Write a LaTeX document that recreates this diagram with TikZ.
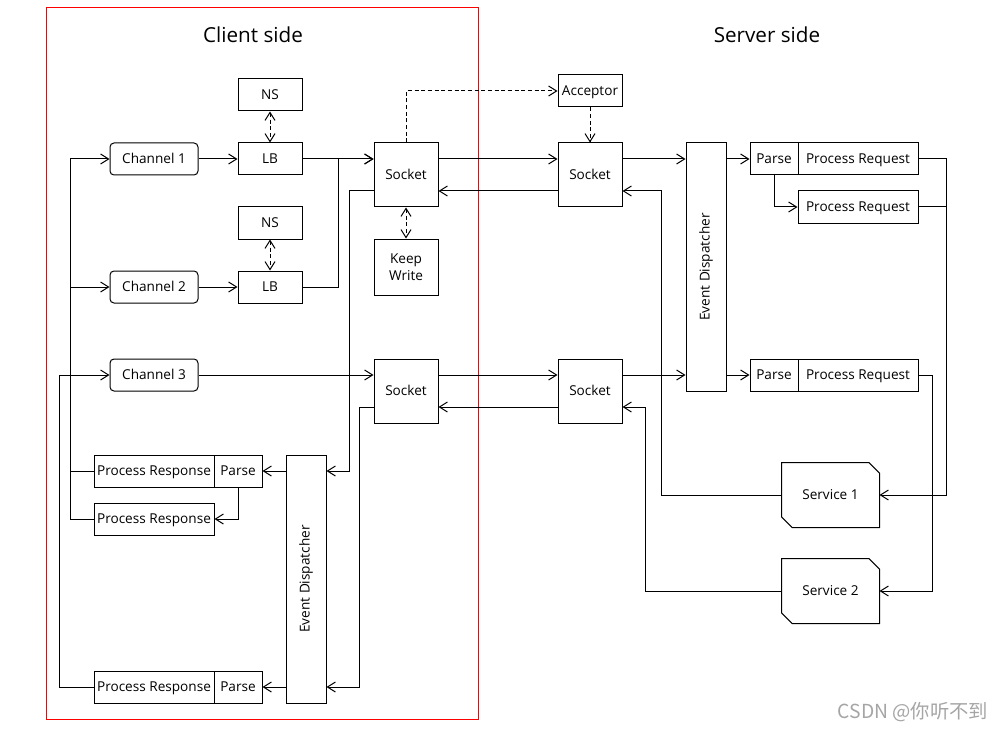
\documentclass[tikz,border=0pt]{standalone}
\usepackage{fontspec}
\setmainfont{Open Sans}
\newfontfamily\cjkfont{Noto Sans CJK SC}
\usepackage{tikz}
\usetikzlibrary{arrows.meta, positioning, calc}
\definecolor{myred}{RGB}{255, 0, 0}
\definecolor{mygray}{RGB}{165, 165, 165}

\begin{document}
\begin{tikzpicture}[x=0.75pt, y=-0.75pt, line width=0.75pt,
    >={Straight Barb[length=6pt, width=7.5pt]},
    box/.style={draw, line width=0.75pt, minimum width=48pt, minimum height=24pt, inner sep=0pt,
        text height=8.5pt, text depth=1.5pt, font=\fontsize{10.2}{12.5}\selectfont},
    chan/.style={box, rounded corners=3pt, minimum width=66pt},
    sock/.style={box, minimum height=48pt},
    wide/.style={box, minimum width=90pt},
    parse/.style={box, minimum width=36pt},
    disp/.style={box, minimum width=30pt, minimum height=186pt, text height=, text depth=},
    serv/.style={box, draw=none, minimum width=72.75pt, minimum height=48pt},
    dashline/.style={dash pattern=on 3pt off 2pt},
    title/.style={font=\fontsize{15.5}{18}\selectfont}]
    \useasboundingbox (0,0) rectangle (1003,731);

    % Client side
    \draw[myred] (46,8) rectangle (478,719);
    \node[title] (ctitle) at (253,35) {Client side};
    \node[title] (stitle) at (767,35) {Server side};

    \node[box] (NS1) at (270,95) {NS};
    \node[box] (LB1) at (270,159) {LB};
    \node[box] (NS2) at (270,223) {NS};
    \node[box] (LB2) at (270,287) {LB};
    \node[chan] (Ch1) at (154,159) {Channel 1};
    \node[chan] (Ch2) at (154,287) {Channel 2};
    \node[chan] (Ch3) at (154,375) {Channel 3};

    \node[sock] (CSock1) at (406,175) {Socket};
    \node[box, minimum height=42pt, text height=, text depth=, align=center] (KW) at (406,267) {Keep\\Write};
    \node[sock] (CSock2) at (406,391) {Socket};

    \node[disp] (CDisp) at (306,579) {\rotatebox{90}{Event Dispatcher}};
    \node[wide] (CPR1) at (154,471) {Process Response};
    \node[parse] (CParse1) at (238,471) {Parse};
    \node[wide] (CPR2) at (154,519) {Process Response};
    \node[wide] (CPR3) at (154,687) {Process Response};
    \node[parse] (CParse3) at (238,687) {Parse};

    % Server side
    \node[box] (Acc) at (590,91) {Acceptor};
    \node[sock] (SSock1) at (590,175) {Socket};
    \node[sock] (SSock2) at (590,391) {Socket};
    \node[disp] (SDisp) at (706,267) {\rotatebox{90}{Event Dispatcher}};
    \node[parse] (SParse1) at (774,159) {Parse};
    \node[wide] (SPR1) at (858,159) {Process Request};
    \node[wide] (SPR2) at (858,207) {Process Request};
    \node[parse] (SParse3) at (774,375) {Parse};
    \node[wide] (SPR3) at (858,375) {Process Request};
    \node[serv] (Serv1) at (830.5,495) {Service 1};
    \node[serv] (Serv2) at (830.5,591) {Service 2};
    \foreach \s in {Serv1, Serv2}
        \draw (\s.north west) -- ([xshift=-8pt]\s.north east) -- ([yshift=-8pt]\s.north east)
            -- (\s.south east) -- ([xshift=8pt]\s.south west) -- ([yshift=8pt]\s.south west) -- cycle;

    % client connectors
    \draw[->] (CPR2.west) -- ++(-23,0) coordinate (bus) |- (Ch1.west);
    \draw[->] (bus |- Ch2.west) -- (Ch2.west);
    \draw (bus |- CPR1.west) -- (CPR1.west);
    \draw[->] (CPR3.west) -- ++(-34,0) |- (Ch3.west);
    \draw[->] (Ch1) -- (LB1);
    \draw[->] (Ch2) -- (LB2);
    \draw[<->, dashline] (NS1) -- (LB1);
    \draw[<->, dashline] (NS2) -- (LB2);
    \draw[->] (LB1.east) -- (CSock1.west |- LB1.east);
    \draw[->] (LB2.east) -- ++(36,0) |- (CSock1.west |- LB1.east);
    \draw[<->, dashline] (CSock1) -- (KW);
    \draw[->] (Ch3.east) -- ([yshift=12pt]CSock2.west);
    \draw[->] ([yshift=-12pt]CSock1.west) -- ++(-24,0) |- (CDisp.east |- CParse1);
    \draw[->] ([yshift=-12pt]CSock2.west) -- ++(-14,0) |- (CDisp.east |- CParse3);
    \draw[->] (CDisp.west |- CParse1) -- (CParse1.east);
    \draw[->] (CDisp.west |- CParse3) -- (CParse3.east);
    \draw[->] (CParse1.south) |- (CPR2.east);

    % across
    \draw[->, dashline] (CSock1.north) |- (Acc.west);
    \draw[->, dashline] (Acc) -- (SSock1);
    \draw[->] ([yshift=12pt]CSock1.east) -- ([yshift=12pt]SSock1.west);
    \draw[->] ([yshift=-12pt]SSock1.west) -- ([yshift=-12pt]CSock1.east);
    \draw[->] ([yshift=12pt]CSock2.east) -- ([yshift=12pt]SSock2.west);
    \draw[->] ([yshift=-12pt]SSock2.west) -- ([yshift=-12pt]CSock2.east);

    % server connectors
    \draw[->] ([yshift=12pt]SSock1.east) -- (SDisp.west |- SParse1);
    \draw[->] ([yshift=12pt]SSock2.east) -- (SDisp.west |- SParse3);
    \draw[->] (SDisp.east |- SParse1) -- (SParse1.west);
    \draw[->] (SDisp.east |- SParse3) -- (SParse3.west);
    \draw[->] (SParse1.south) |- (SPR2.west);
    \draw[->] (SPR1.east) -- ++(28,0) |- (Serv1.east);
    \draw (SPR2.east) -- ++(28,0);
    \draw[->] (SPR3.east) -- ++(13.7,0) |- (Serv2.east);
    \draw[->] (Serv1.west) -- ++(-120,0) |- ([yshift=-12pt]SSock1.east);
    \draw[->] (Serv2.west) -- ++(-136.5,0) |- ([yshift=-12pt]SSock2.east);

    \node[mygray, font=\cjkfont\fontsize{14.5}{16}\selectfont] (mark) at (913,712) {CSDN @你听不到};
\end{tikzpicture}
\end{document}
